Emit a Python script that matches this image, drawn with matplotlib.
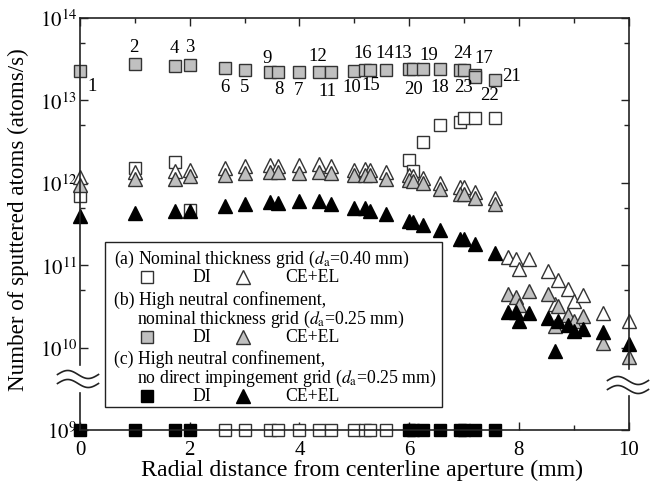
import matplotlib
matplotlib.use('Agg')
import matplotlib.pyplot as plt
import numpy as np
from matplotlib.lines import Line2D
from matplotlib.patches import Rectangle
from matplotlib.ticker import FixedLocator

plt.rcParams['font.family'] = ['Liberation Serif', 'DejaVu Serif']
plt.rcParams['mathtext.fontset'] = 'stix'

# ---------------- data ----------------
ZERO = 1e9  # plotted on the broken bottom row (below detection)

# (b) high neutral confinement, nominal grid : DI (gray squares, numbered)
b_di_x = [0, 1, 1.73, 2, 2.65, 3, 3.46, 3.61, 4, 4.36, 4.58, 5, 5.2, 5.29, 5.57,
          6, 6.08, 6.25, 6.56, 6.93, 7.0, 7.21, 7.21, 7.56]
b_di_y = [2.3e13, 2.75e13, 2.6e13, 2.7e13, 2.45e13, 2.33e13, 2.24e13, 2.24e13, 2.2e13,
          2.2e13, 2.2e13, 2.3e13, 2.33e13, 2.33e13, 2.35e13, 2.4e13, 2.4e13, 2.4e13,
          2.4e13, 2.35e13, 2.35e13, 2.05e13, 1.95e13, 1.78e13]
b_di_labels = ['1', '2', '4', '3', '6', '5', '9', '8', '7', '12', '11', '10', '16', '15',
               '14', '13', '20', '19', '18', '24', '23', '17', '22', '21']
label_offsets_px = [(12, -15), (-1, 18), (-1, 19), (0, 18), (0, -18), (0, -16), (-3, 14),
                    (1, -17), (-1, -17), (-1, 17), (-4, -18), (-2, -16), (-3, 18), (1, -14),
                    (-1, 17), (-6, 17), (0, -19), (6, 15), (0, -17), (2, 17), (0, -17),
                    (8, 17), (14, -18), (17, 4)]

# (a) nominal grid : DI (open squares)
a_di_x = [0, 1, 1.73, 2, 2.65, 3, 3.46, 3.61, 4, 4.36, 4.58, 5, 5.2, 5.29, 5.57,
          6, 6.08, 6.25, 6.56, 6.93, 7.0, 7.21, 7.56]
a_di_y = [6.9e11, 1.5e12, 1.8e12, 4.7e11, ZERO, ZERO, ZERO, ZERO, ZERO, ZERO, ZERO, ZERO,
          ZERO, ZERO, ZERO, 1.9e12, 1.4e12, 3.1e12, 5.0e12, 5.4e12, 6.2e12, 6.2e12, 6.1e12]

# (c) no direct impingement grid : DI (black squares)
c_di_x = [0, 1, 1.73, 2, 6, 6.08, 6.25, 6.56, 6.93, 7.0, 7.21, 7.56]
c_di_y = [ZERO] * 12

# CE+EL (triangles)
ce_x = [0, 1, 1.73, 2, 2.65, 3, 3.46, 3.61, 4, 4.36, 4.58, 5, 5.2, 5.29, 5.57,
        6, 6.08, 6.25, 6.56, 6.93, 7.0, 7.21, 7.56,
        7.81, 7.94, 8.0, 8.19, 8.54, 8.66, 8.72, 8.89, 9.0, 9.17, 9.54, 10.0]
a_ce_y = [1.17e12, 1.35e12, 1.38e12, 1.45e12, 1.5e12, 1.58e12, 1.66e12, 1.6e12, 1.65e12,
          1.7e12, 1.58e12, 1.44e12, 1.48e12, 1.45e12, 1.35e12, 1.23e12, 1.2e12, 1.13e12,
          1.0e12, 8.9e11, 8.9e11, 7.8e11, 6.6e11,
          1.26e11, 1.2e11, 9.0e10, 1.2e11, 8.5e10, 3.4e10, 6.6e10, 5.2e10, 3.7e10, 4.3e10,
          2.6e10, 2.1e10]
b_ce_y = [9.4e11, 1.1e12, 1.1e12, 1.2e12, 1.25e12, 1.3e12, 1.35e12, 1.35e12, 1.33e12,
          1.35e12, 1.33e12, 1.23e12, 1.25e12, 1.25e12, 1.1e12, 1.07e12, 1.05e12, 1.0e12,
          8.4e11, 7.4e11, 7.4e11, 6.5e11, 5.5e11,
          4.5e10, 4.1e10, 3.3e10, 4.8e10, 4.5e10, 1.85e10, 3.2e10, 2.5e10, 2.1e10, 2.4e10,
          1.15e10, 7.6e9]
c_ce_y = [4.0e11, 4.3e11, 4.6e11, 4.6e11, 5.3e11, 5.5e11, 5.8e11, 5.7e11, 6.0e11, 6.0e11,
          5.5e11, 5.0e11, 5.0e11, 4.6e11, 4.2e11, 3.4e11, 3.3e11, 3.1e11, 2.7e11, 2.1e11,
          2.1e11, 1.8e11, 1.4e11,
          2.7e10, 2.7e10, 2.1e10, 2.6e10, 2.3e10, 9.1e9, 2.1e10, 1.9e10, 1.6e10, 1.7e10,
          1.55e10, 1.1e10]

x_major = [0, 2, 4, 6, 8, 10]
x_minor = [1, 3, 5, 7, 9]
y_major = [1e9, 1e10, 1e11, 1e12, 1e13, 1e14]
y_major_labels = ['$10^{9}$', '$10^{10}$', '$10^{11}$', '$10^{12}$', '$10^{13}$', '$10^{14}$']
y_minor = [5e10, 5e11, 5e12, 5e13]

legend_lines = ['(a) Nominal thickness grid ($d_{\\rm a}$=0.40 mm)',
                '(b) High neutral confinement,',
                'nominal thickness grid ($d_{\\rm a}$=0.25 mm)',
                '(c) High neutral confinement,',
                'no direct impingement grid ($d_{\\rm a}$=0.25 mm)']

# ---------------- styling ----------------
W, H = 654, 485
GRAY = '#c0c0c0'
EDGE = '#333333'
SQ = 8.5
TRI = 10


def P(x, y):
    return (x / W, 1 - y / H)


fig = plt.figure(figsize=(W / 100, H / 100), dpi=100)
ax_l, ax_r, ax_t, ax_b = 80, 628.5, 19, 431
ax = fig.add_axes([ax_l / W, 1 - ax_b / H, (ax_r - ax_l) / W, (ax_b - ax_t) / H])
ax.set_yscale('log')
ax.set_xlim(0, 10)
ax.set_ylim(1e9, 1e14)

common = dict(linestyle='none', clip_on=False, markeredgewidth=1.0)
ax.plot(a_di_x, a_di_y, marker='s', ms=SQ, mfc='white', mec=EDGE, **common)
ax.plot(ce_x, a_ce_y, marker='^', ms=TRI, mfc='white', mec=EDGE, **common)
ax.plot(ce_x, b_ce_y, marker='^', ms=TRI, mfc=GRAY, mec=EDGE, **common)
ax.plot(ce_x, c_ce_y, marker='^', ms=TRI, mfc='black', mec='black', **common)
ax.plot(b_di_x, b_di_y, marker='s', ms=SQ, mfc=GRAY, mec=EDGE, **common)
ax.plot(c_di_x, c_di_y, marker='s', ms=SQ, mfc='black', mec='black', **common)

for x, y, lab, (dx, dy) in zip(b_di_x, b_di_y, b_di_labels, label_offsets_px):
    ax.annotate(lab, (x, y), xytext=(dx, dy), textcoords='offset pixels',
                ha='center', va='center', fontsize=13.5, annotation_clip=False)

# ticks
ax.xaxis.set_major_locator(FixedLocator(x_major))
ax.xaxis.set_minor_locator(FixedLocator(x_minor))
ax.set_xticklabels([str(v) for v in x_major])
ax.yaxis.set_major_locator(FixedLocator(y_major))
ax.yaxis.set_minor_locator(FixedLocator(y_minor))
ax.set_yticklabels(y_major_labels)
ax.yaxis.set_minor_formatter(plt.NullFormatter())
ax.tick_params(which='both', direction='in', top=True, right=True, width=1.0,
               labelsize=15, color='#222222')
ax.tick_params(which='major', length=6)
ax.tick_params(which='minor', length=3.5)
ax.tick_params(axis='x', pad=7)
ax.tick_params(axis='y', pad=2)

for s in ['top', 'bottom']:
    ax.spines[s].set_linewidth(1.2)
    ax.spines[s].set_color('#222222')
ax.spines['left'].set_visible(False)
ax.spines['right'].set_visible(False)

# broken vertical spines
spine_kw = dict(transform=fig.transFigure, color='#222222', lw=1.2, zorder=5, clip_on=False)
for (x, y0, y1) in [(ax_l, ax_t, 366), (ax_l, 394, ax_b), (ax_r, ax_t, 370), (ax_r, 397, ax_b)]:
    p0, p1 = P(x, y0), P(x, y1)
    fig.add_artist(Line2D([p0[0], p1[0]], [p0[1], p1[1]], **spine_kw))

# break marks
t = np.linspace(0, 1, 60)
for (xc, yc) in [(78, 380), (628, 386)]:
    for off in (-4.5, 4.5):
        xs = xc + (t - 0.5) * 41
        ys = yc + off - 4.0 * np.sin(2 * np.pi * t)
        fig.add_artist(Line2D(xs / W, 1 - ys / H, transform=fig.transFigure,
                              color='#222222', lw=1.2, zorder=5))

# axis labels
fig.text(*P(362, 470), 'Radial distance from centerline aperture (mm)', ha='center',
         va='center', fontsize=17.2)
fig.text(*P(18, 220), 'Number of sputtered atoms (atoms/s)', ha='center', va='center',
         rotation=90, fontsize=16.6)

# legend box
bx0, by0, bx1, by1 = 105, 243, 442, 408
fig.add_artist(Rectangle(P(bx0, by1), (bx1 - bx0) / W, (by1 - by0) / H,
                         transform=fig.transFigure, fill=True, facecolor='white',
                         edgecolor='#222222', lw=1.0, zorder=6))
LFS = 12.8
txt_kw = dict(ha='left', va='center', fontsize=LFS, zorder=7)
fig.text(*P(114, 259), legend_lines[0], **txt_kw)
fig.text(*P(114, 300), legend_lines[1], **txt_kw)
fig.text(*P(137, 319), legend_lines[2], **txt_kw)
fig.text(*P(114, 359), legend_lines[3], **txt_kw)
fig.text(*P(137, 378), legend_lines[4], **txt_kw)

rows = [(278, 'white', EDGE, 'white', EDGE),
        (338, GRAY, EDGE, GRAY, EDGE),
        (397, 'black', 'black', 'black', 'black')]
for y, sfc, sec, tfc, tec in rows:
    fig.add_artist(Line2D([147 / W], [1 - y / H], marker='s', ms=SQ, mfc=sfc, mec=sec,
                          mew=1.0, transform=fig.transFigure, zorder=7))
    fig.add_artist(Line2D([243 / W], [1 - y / H], marker='^', ms=TRI, mfc=tfc, mec=tec,
                          mew=1.0, transform=fig.transFigure, zorder=7))
    fig.text(*P(192, y), 'DI', **txt_kw)
    fig.text(*P(285, y), 'CE+EL', **txt_kw)

fig.savefig('out.png', dpi=100)
